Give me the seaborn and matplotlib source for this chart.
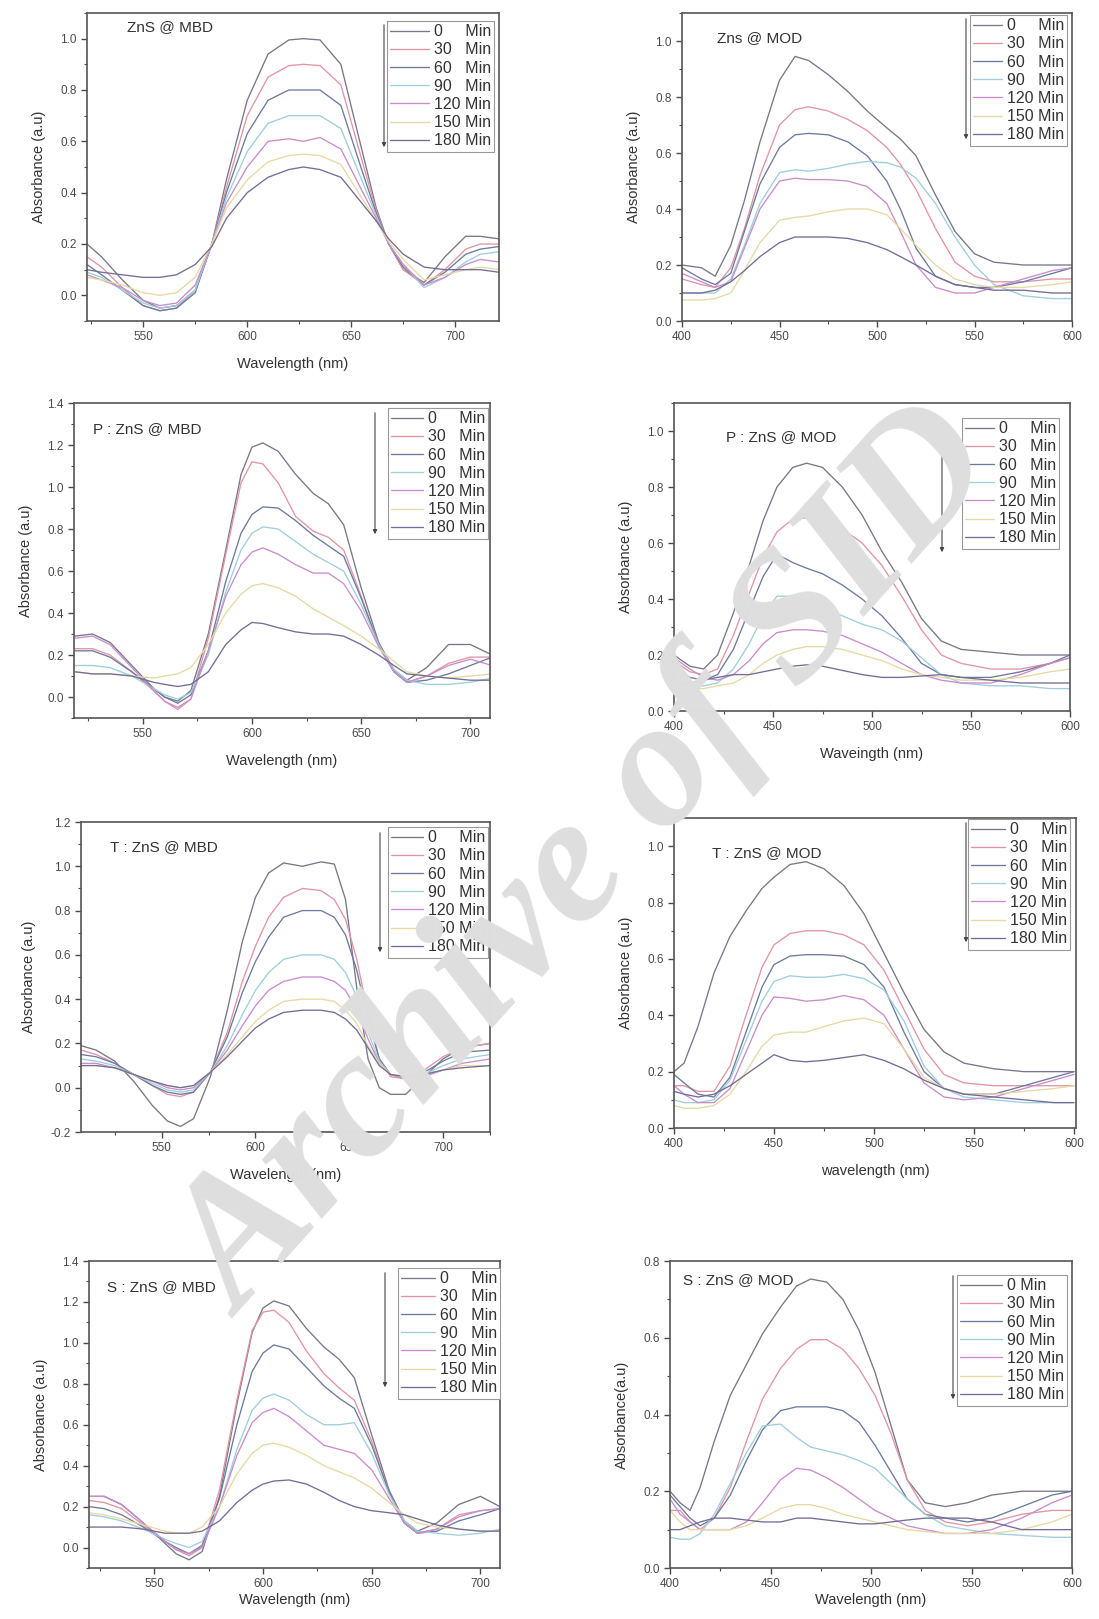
import matplotlib
matplotlib.use('Agg')
import numpy as np
import pandas as pd
import seaborn as sns
import matplotlib.pyplot as plt
from matplotlib.lines import Line2D
from matplotlib.ticker import MultipleLocator, FormatStrFormatter

W, H = 1099, 1619

times = [0, 30, 60, 90, 120, 150, 180]
labels_pad = ['0     Min', '30   Min', '60   Min', '90   Min', '120 Min', '150 Min', '180 Min']
labels_tight = ['0 Min', '30 Min', '60 Min', '90 Min', '120 Min', '150 Min', '180 Min']
colors = ['#777789', '#e394a4', '#6c7a9e', '#9fcedc', '#c98ccd', '#e6d9a2', '#746c96']

# ZnS @ MBD
wl_zns_mbd = [523, 530, 540, 550, 558, 566, 575, 583, 590, 600, 610, 620, 627, 635, 645, 655, 662, 668, 675, 685, 695, 705, 712, 721]
abs_zns_mbd = [
    [.20, .15, .06, -.02, -.05, -.04, .02, .20, .45, .76, .94, .995, 1.0, .995, .90, .57, .34, .20, .10, .05, .15, .23, .23, .22],
    [.15, .11, .03, -.04, -.06, -.05, .02, .20, .42, .70, .85, .895, .90, .895, .82, .53, .33, .20, .10, .04, .10, .18, .20, .20],
    [.12, .08, .02, -.04, -.06, -.05, .01, .20, .40, .63, .76, .80, .80, .80, .74, .49, .32, .20, .11, .04, .09, .16, .18, .19],
    [.09, .07, .02, -.03, -.05, -.04, .02, .20, .38, .56, .67, .70, .70, .70, .65, .45, .31, .20, .12, .03, .07, .13, .16, .17],
    [.08, .06, .03, -.02, -.04, -.03, .04, .20, .36, .50, .60, .61, .60, .615, .57, .41, .30, .20, .12, .04, .07, .12, .14, .13],
    [.07, .06, .04, .01, .00, .01, .07, .20, .34, .45, .52, .545, .55, .545, .51, .38, .29, .21, .14, .06, .08, .10, .11, .10],
    [.10, .09, .08, .07, .07, .08, .12, .19, .30, .40, .46, .49, .50, .49, .46, .36, .29, .22, .16, .11, .10, .10, .10, .09],
]

# Zns @ MOD
wl_zns_mod = [400, 410, 417, 425, 432, 440, 450, 458, 465, 475, 485, 495, 505, 512, 520, 530, 540, 550, 560, 575, 590, 600]
abs_zns_mod = [
    [.20, .19, .16, .27, .43, .64, .86, .945, .93, .88, .82, .75, .69, .65, .59, .45, .32, .24, .21, .20, .20, .20],
    [.15, .13, .12, .19, .33, .52, .70, .755, .765, .75, .72, .68, .62, .56, .47, .33, .21, .16, .14, .14, .15, .15],
    [.19, .15, .13, .17, .32, .49, .62, .665, .67, .665, .64, .59, .50, .40, .26, .16, .13, .12, .12, .14, .17, .19],
    [.10, .10, .10, .15, .27, .42, .53, .54, .535, .545, .56, .57, .565, .55, .51, .42, .30, .20, .13, .09, .08, .08],
    [.17, .14, .12, .14, .26, .40, .50, .51, .505, .505, .50, .48, .42, .32, .20, .12, .10, .10, .12, .15, .18, .19],
    [.075, .075, .08, .10, .18, .28, .36, .37, .375, .39, .40, .40, .38, .33, .27, .20, .15, .13, .12, .12, .13, .14],
    [.10, .10, .11, .14, .18, .23, .28, .30, .30, .30, .295, .28, .255, .23, .20, .16, .13, .12, .11, .11, .10, .10],
]

# P : ZnS @ MBD
wl_p_mbd = [519, 527, 535, 545, 555, 560, 566, 572, 580, 588, 595, 600, 605, 612, 620, 628, 635, 642, 650, 658, 665, 671, 680, 690, 700, 710]
abs_p_mbd = [
    [.29, .30, .26, .15, .04, .00, -.02, .03, .30, .70, 1.06, 1.19, 1.21, 1.17, 1.06, .97, .92, .82, .52, .26, .13, .08, .14, .25, .25, .20],
    [.23, .23, .20, .12, .03, -.02, -.06, -.01, .28, .68, 1.02, 1.12, 1.11, 1.02, .86, .79, .76, .70, .48, .25, .12, .07, .10, .16, .19, .19],
    [.22, .22, .19, .12, .04, .00, -.03, .01, .22, .55, .78, .87, .905, .90, .84, .77, .72, .67, .47, .25, .12, .07, .08, .11, .15, .19],
    [.15, .15, .14, .10, .04, .01, -.01, .02, .20, .50, .70, .78, .81, .80, .74, .68, .64, .60, .44, .25, .13, .08, .06, .06, .07, .09],
    [.28, .29, .25, .14, .03, -.02, -.05, -.01, .22, .48, .63, .69, .71, .68, .63, .59, .59, .54, .41, .24, .12, .07, .10, .15, .18, .15],
    [.12, .11, .11, .10, .09, .10, .11, .14, .25, .40, .49, .53, .54, .52, .48, .42, .38, .34, .29, .23, .17, .12, .10, .09, .10, .11],
    [.12, .11, .11, .10, .07, .06, .05, .06, .12, .25, .32, .355, .35, .33, .31, .30, .30, .29, .25, .20, .15, .11, .10, .09, .08, .08],
]

# P : ZnS @ MOD
wl_p_mod = [400, 408, 415, 422, 430, 438, 445, 452, 460, 467, 475, 485, 495, 505, 515, 525, 535, 545, 560, 575, 590, 600]
abs_p_mod = [
    [.20, .16, .15, .20, .35, .52, .68, .80, .87, .885, .87, .80, .70, .57, .46, .33, .25, .22, .21, .20, .20, .20],
    [.18, .14, .13, .15, .27, .42, .55, .64, .685, .69, .68, .65, .60, .52, .41, .29, .20, .17, .15, .15, .17, .19],
    [.15, .12, .11, .13, .22, .36, .48, .56, .53, .51, .49, .45, .40, .34, .26, .17, .13, .12, .12, .14, .17, .20],
    [.10, .09, .09, .10, .15, .24, .34, .41, .41, .39, .37, .34, .31, .29, .25, .19, .13, .10, .09, .09, .08, .08],
    [.19, .15, .12, .11, .13, .18, .24, .28, .29, .29, .285, .27, .24, .21, .17, .13, .11, .10, .10, .13, .17, .19],
    [.08, .08, .08, .09, .10, .13, .17, .20, .22, .23, .23, .22, .20, .18, .15, .13, .12, .11, .11, .12, .14, .15],
    [.09, .10, .11, .12, .13, .13, .14, .15, .16, .165, .16, .145, .13, .12, .12, .125, .13, .12, .11, .10, .10, .10],
]

# T : ZnS @ MBD
wl_t_mbd = [507, 515, 525, 535, 545, 553, 560, 567, 576, 585, 593, 600, 607, 615, 625, 635, 642, 648, 654, 660, 666, 672, 680, 690, 700, 710, 725]
abs_t_mbd = [
    [.19, .17, .12, .03, -.08, -.15, -.175, -.14, .05, .35, .66, .86, .97, 1.015, 1.0, 1.02, 1.01, .85, .45, .13, .00, -.03, -.03, .05, .13, .18, .20],
    [.17, .15, .11, .06, .01, -.03, -.04, -.02, .07, .25, .48, .64, .77, .86, .90, .89, .85, .76, .58, .33, .13, .05, .04, .08, .14, .18, .20],
    [.15, .14, .11, .06, .01, -.02, -.03, -.02, .07, .23, .43, .57, .68, .77, .80, .80, .77, .69, .53, .31, .13, .06, .04, .07, .12, .16, .17],
    [.13, .12, .10, .06, .02, -.01, -.02, -.01, .07, .19, .33, .44, .52, .58, .60, .60, .58, .52, .41, .25, .12, .06, .04, .06, .10, .13, .15],
    [.11, .11, .09, .06, .03, .00, -.01, .00, .07, .17, .28, .37, .44, .48, .50, .50, .48, .44, .35, .22, .11, .06, .04, .05, .08, .11, .13],
    [.10, .10, .09, .06, .03, .01, .00, .01, .07, .15, .23, .30, .35, .39, .40, .40, .39, .35, .29, .19, .11, .06, .05, .06, .08, .10, .10],
    [.10, .10, .09, .06, .03, .01, .00, .01, .07, .14, .21, .27, .31, .34, .35, .35, .34, .31, .26, .18, .10, .06, .05, .06, .08, .09, .10],
]

# T : ZnS @ MOD
wl_t_mod = [400, 405, 412, 420, 428, 436, 444, 450, 458, 466, 475, 485, 495, 505, 515, 525, 535, 545, 560, 575, 590, 600]
abs_t_mod = [
    [.20, .23, .36, .55, .68, .77, .85, .89, .935, .945, .92, .86, .76, .62, .48, .35, .27, .23, .21, .20, .20, .20],
    [.15, .15, .13, .13, .22, .40, .57, .65, .69, .70, .70, .685, .65, .56, .42, .28, .19, .16, .15, .15, .15, .15],
    [.19, .16, .12, .11, .18, .34, .50, .58, .61, .615, .615, .61, .58, .50, .34, .20, .14, .12, .12, .15, .18, .20],
    [.10, .09, .09, .10, .17, .31, .45, .52, .54, .535, .535, .545, .53, .49, .38, .22, .14, .11, .10, .09, .09, .09],
    [.15, .12, .09, .09, .14, .27, .40, .465, .46, .45, .455, .47, .455, .40, .28, .16, .11, .10, .11, .14, .17, .19],
    [.08, .07, .07, .08, .12, .20, .29, .33, .34, .34, .36, .38, .39, .37, .28, .18, .14, .12, .12, .13, .14, .15],
    [.13, .12, .11, .12, .15, .19, .23, .26, .24, .235, .24, .25, .26, .24, .21, .17, .14, .12, .11, .10, .09, .09],
]

# S : ZnS @ MBD
wl_s_mbd = [520, 527, 535, 545, 555, 560, 566, 572, 580, 588, 595, 600, 605, 612, 620, 628, 635, 642, 650, 658, 665, 671, 680, 690, 700, 709]
abs_s_mbd = [
    [.25, .25, .21, .12, .02, -.03, -.06, -.02, .25, .70, 1.05, 1.17, 1.205, 1.18, 1.07, .98, .92, .83, .55, .28, .13, .08, .12, .21, .25, .20],
    [.23, .22, .19, .11, .03, -.01, -.04, .00, .28, .72, 1.06, 1.15, 1.16, 1.10, .96, .85, .78, .72, .52, .27, .12, .07, .09, .16, .18, .19],
    [.20, .19, .16, .10, .03, .00, -.03, .01, .24, .60, .86, .95, .99, .97, .88, .79, .73, .68, .50, .27, .12, .07, .08, .13, .16, .19],
    [.16, .15, .13, .09, .04, .02, .00, .03, .20, .48, .67, .73, .75, .72, .65, .60, .60, .61, .46, .26, .13, .08, .07, .06, .07, .09],
    [.25, .25, .21, .12, .03, -.01, -.03, .00, .20, .45, .61, .66, .68, .64, .57, .50, .48, .46, .38, .24, .12, .07, .09, .15, .18, .19],
    [.17, .16, .14, .11, .08, .07, .07, .10, .20, .36, .46, .50, .51, .49, .45, .40, .37, .34, .29, .22, .16, .12, .10, .09, .08, .08],
    [.10, .10, .10, .09, .07, .07, .07, .08, .13, .22, .28, .31, .325, .33, .31, .27, .23, .20, .18, .17, .16, .14, .11, .09, .08, .08],
]

# S : ZnS @ MOD
wl_s_mod = [400, 405, 410, 415, 422, 430, 438, 446, 455, 463, 470, 478, 486, 494, 502, 510, 518, 527, 537, 548, 560, 575, 590, 600]
abs_s_mod = [
    [.20, .17, .15, .21, .33, .45, .53, .61, .68, .735, .753, .745, .70, .62, .51, .37, .23, .17, .16, .17, .19, .20, .20, .20],
    [.15, .15, .12, .10, .13, .21, .33, .44, .52, .57, .595, .595, .57, .52, .45, .35, .23, .15, .12, .11, .12, .14, .15, .15],
    [.19, .16, .13, .11, .13, .19, .28, .36, .41, .42, .42, .42, .41, .38, .32, .25, .18, .14, .13, .12, .13, .16, .19, .20],
    [.08, .075, .075, .09, .14, .22, .30, .37, .375, .34, .315, .305, .295, .28, .26, .22, .18, .14, .11, .10, .09, .085, .08, .08],
    [.18, .14, .12, .10, .10, .10, .12, .17, .23, .26, .255, .235, .21, .18, .15, .13, .11, .10, .09, .09, .10, .13, .17, .19],
    [.15, .12, .10, .10, .10, .10, .11, .13, .155, .165, .165, .155, .14, .13, .12, .11, .10, .095, .09, .09, .09, .10, .12, .14],
    [.10, .10, .11, .12, .13, .13, .125, .12, .12, .13, .13, .125, .12, .115, .115, .12, .125, .13, .13, .13, .12, .10, .10, .10],
]

sns.set_style('ticks')
plt.rcParams['font.family'] = ['Liberation Sans', 'DejaVu Sans']
plt.rcParams['text.color'] = '#333333'
plt.rcParams['axes.labelcolor'] = '#333333'
plt.rcParams['xtick.color'] = '#4a4a4a'
plt.rcParams['ytick.color'] = '#4a4a4a'

# panel settings: title, wl, data, xlim, ylim, xlabel, ylabel, axes box px (l, t, r, b),
# legend corner px (r, t), arrow px (x, top, bottom), title px (x, y), legend labels,
# xlabel pad, legend handle length
panels = [
    ('ZnS @ MBD', wl_zns_mbd, abs_zns_mbd, (523, 721), (-0.1, 1.1), 'Wavelength (nm)', 'Absorbance (a.u)',
     (87, 13, 499, 321), (494, 21), (384, 22, 150), (127, 27), labels_pad, 10, 2.4),
    ('Zns @ MOD', wl_zns_mod, abs_zns_mod, (400, 600), (0, 1.1), '', 'Absorbance (a.u)',
     (682, 13, 1072, 321), (1067, 15), (966, 16, 142), (717, 38), labels_pad, 10, 1.8),
    ('P : ZnS @ MBD', wl_p_mbd, abs_p_mbd, (518.5, 709), (-0.1, 1.4), 'Wavelength (nm)', 'Absorbance (a.u)',
     (74, 403, 490, 718), (488, 408), (375, 410, 537), (93, 429), labels_pad, 10, 2.0),
    ('P : ZnS @ MOD', wl_p_mod, abs_p_mod, (400, 600), (0, 1.1), 'Waveingth (nm)', 'Absorbance (a.u)',
     (674, 403, 1070, 711), (1059, 418), (942, 419, 555), (726, 437), labels_pad, 10, 1.8),
    ('T : ZnS @ MBD', wl_t_mbd, abs_t_mbd, (507, 725), (-0.2, 1.2), 'Wavelength (nm)', 'Absorbance (a.u)',
     (81, 822, 490, 1132), (488, 827), (380, 830, 955), (110, 847), labels_pad, 10, 2.0),
    ('T : ZnS @ MOD', wl_t_mod, abs_t_mod, (400, 601), (0, 1.1), 'wavelength (nm)', 'Absorbance (a.u)',
     (674, 818, 1076, 1128), (1070, 819), (966, 820, 945), (712, 853), labels_pad, 10, 2.1),
    ('S : ZnS @ MBD', wl_s_mbd, abs_s_mbd, (520, 709), (-0.1, 1.4), 'Wavelength (nm)', 'Absorbance (a.u)',
     (89, 1261, 500, 1568), (500, 1268), (385, 1270, 1390), (107, 1287), labels_pad, 2, 2.1),
    ('S : ZnS @ MOD', wl_s_mod, abs_s_mod, (400, 600), (0, 0.8), 'Wavelength (nm)', 'Absorbance(a.u)',
     (670, 1261, 1072, 1568), (1067, 1275), (953, 1273, 1402), (683, 1280), labels_tight, 2, 2.6),
]

fig = plt.figure(figsize=(W / 100, H / 100), dpi=100)

for (title, wl, data, xlim, ylim, xlab, ylab, box, leg_rt, arrow, tpos, labs, xpad, hlen) in panels:
    l, t, r, b = box
    ax = fig.add_axes([l / W, 1 - b / H, (r - l) / W, (b - t) / H])
    rows = []
    for lab, vals in zip(labs, data):
        for x, y in zip(wl, vals):
            rows.append({'wl': x, 'A': y, 'time': lab})
    df = pd.DataFrame(rows)
    sns.lineplot(data=df, x='wl', y='A', hue='time', hue_order=labs, palette=colors,
                 linewidth=0.95, ax=ax, legend=False)
    ax.set_xlim(*xlim)
    ax.set_ylim(*ylim)
    ax.xaxis.set_major_locator(MultipleLocator(50))
    ax.xaxis.set_minor_locator(MultipleLocator(25))
    ax.yaxis.set_major_locator(MultipleLocator(0.2))
    ax.yaxis.set_minor_locator(MultipleLocator(0.1))
    ax.yaxis.set_major_formatter(FormatStrFormatter('%.1f'))
    ax.tick_params(which='major', length=4, width=1, labelsize=8.5, direction='out')
    ax.tick_params(which='minor', length=2.5, width=0.8, direction='out')
    for sp in ax.spines.values():
        sp.set_visible(True)
        sp.set_color('#555555')
        sp.set_linewidth(1.2)
    ax.set_xlabel(xlab, fontsize=10.5, labelpad=xpad)
    ax.set_ylabel(ylab, fontsize=10.5, labelpad=10)

    handles = [Line2D([], [], color=c, lw=0.95) for c in colors]
    ax.legend(handles, labs, loc='upper right',
              bbox_to_anchor=(leg_rt[0] / W, 1 - leg_rt[1] / H), bbox_transform=fig.transFigure,
              borderaxespad=0, fontsize=11.5, frameon=True, fancybox=False,
              edgecolor='#999999', framealpha=1, handlelength=hlen, handletextpad=0.3,
              labelspacing=0.2, borderpad=0.2)
    ax.get_legend().get_frame().set_linewidth(0.8)

    ax_x, a_top, a_bot = arrow
    ax.annotate('', xy=(ax_x, H - a_bot), xytext=(ax_x, H - a_top), xycoords='figure pixels',
                textcoords='figure pixels',
                arrowprops=dict(arrowstyle='-|>', color='#444444', lw=0.8, mutation_scale=6))
    ax.annotate(title, xy=(tpos[0], H - tpos[1]), xycoords='figure pixels',
                ha='left', va='center', fontsize=11, color='#333333')

# watermark over the figure
fig.text(590 / W, 1 - 865 / H, 'Archive of SID', rotation=48, ha='center', va='center',
         rotation_mode='anchor', fontsize=132, family=['Liberation Serif', 'DejaVu Serif'],
         weight='bold', style='italic', color='#dedede')

fig.savefig('out.png', dpi=100)
